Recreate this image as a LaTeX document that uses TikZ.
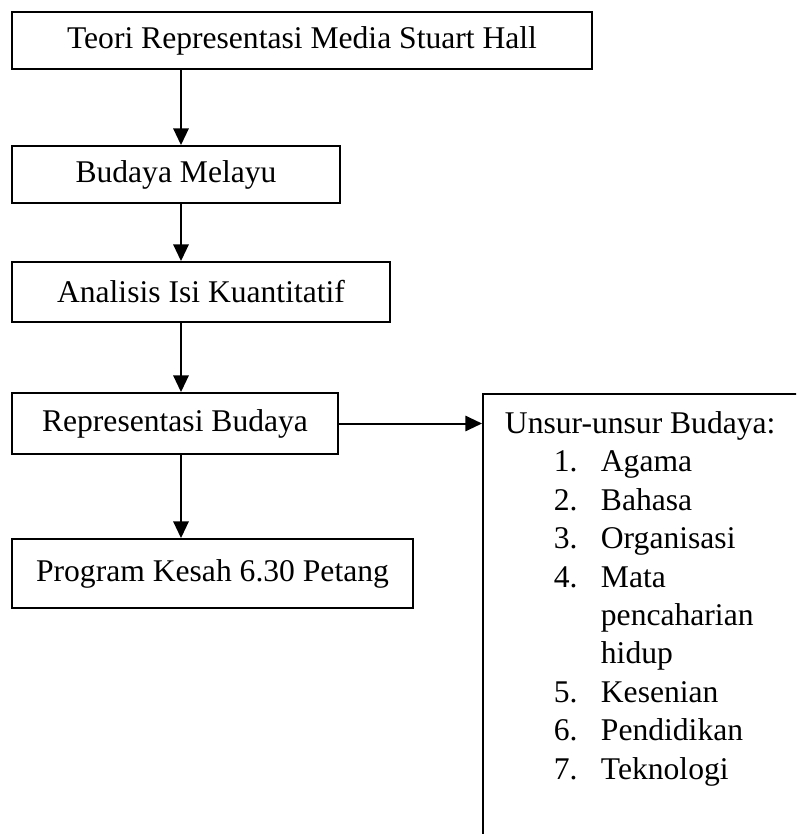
\documentclass[tikz,border=0pt]{standalone}
\usepackage{fontspec}
\setmainfont{Liberation Serif}
\usetikzlibrary{arrows.meta}

\begin{document}
\begin{tikzpicture}[x=0.75pt,y=-0.75pt,
        box/.style={draw,line width=1.4pt,inner sep=0pt,font=\fontsize{23.7}{28.8}\selectfont},
        arr/.style={-{Triangle[length=12.5pt,width=11.5pt]},line width=1.5pt}]
        \path[use as bounding box,clip](0,0)rectangle(796,834);
        \coordinate(axis)at(181,0);

        \node[box,minimum width=435pt,minimum height=42.75pt](teori)at(302,40.5){Teori Representasi Media Stuart Hall};
        \node[box,minimum width=246pt,minimum height=42.75pt](budaya)at(176,174.5){Budaya Melayu};
        \node[box,minimum width=283.5pt,minimum height=45pt](analisis)at(201,292){Analisis Isi Kuantitatif};
        \node[box,minimum width=244.5pt,minimum height=45.75pt](repr)at(175,423.5){Representasi Budaya};
        \node[box,minimum width=300.75pt,minimum height=51.75pt](program)at(212.5,573.5){Program Kesah 6.30 Petang};

        \node[box,anchor=north west,minimum width=247.5pt,minimum height=345pt](unsur)at(482,393){};
        \node[box,draw=none,anchor=base west,align=left](unsurlist)at(504,779){Unsur-unsur Budaya:\\
            \hspace*{36.75pt}\makebox[35.25pt][l]{1.}Agama\\
            \hspace*{36.75pt}\makebox[35.25pt][l]{2.}Bahasa\\
            \hspace*{36.75pt}\makebox[35.25pt][l]{3.}Organisasi\\
            \hspace*{36.75pt}\makebox[35.25pt][l]{4.}Mata\\
            \hspace*{72pt}pencaharian\\
            \hspace*{72pt}hidup\\
            \hspace*{36.75pt}\makebox[35.25pt][l]{5.}Kesenian\\
            \hspace*{36.75pt}\makebox[35.25pt][l]{6.}Pendidikan\\
            \hspace*{36.75pt}\makebox[35.25pt][l]{7.}Teknologi};

        \draw[arr](teori.south-|axis)--(budaya.north-|axis);
        \draw[arr](budaya.south-|axis)--(analisis.north-|axis);
        \draw[arr](analisis.south-|axis)--(repr.north-|axis);
        \draw[arr](repr.south-|axis)--(program.north-|axis);
        \draw[arr](repr.east)--(repr.east-|unsur.west);
    \end{tikzpicture}
\end{document}
